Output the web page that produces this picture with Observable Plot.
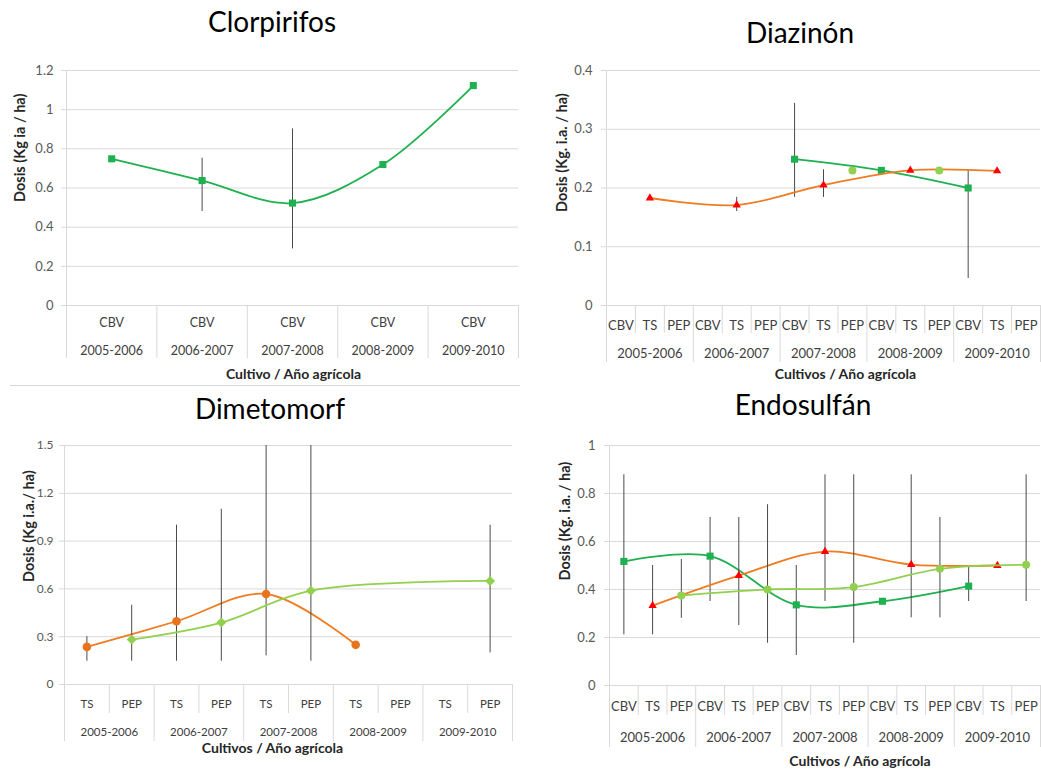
<!DOCTYPE html>
<html><head><meta charset="utf-8">
<script src="https://cdn.jsdelivr.net/npm/d3@7"></script>
<script src="https://cdn.jsdelivr.net/npm/@observablehq/plot@0.6"></script>
<style>
body{margin:0;background:#fff;font-family:Lato,sans-serif;}
#root{position:relative;width:1041px;height:769px;overflow:hidden;background:#fff;}
.panel{position:absolute;}
.title{position:absolute;font-family:Lato,sans-serif;font-size:28px;line-height:28px;color:#000;text-align:center;width:300px;white-space:nowrap;}
.divider{position:absolute;left:10px;top:385px;width:510px;height:1px;background:#d9d9d9;}
</style></head><body><div id="root"></div>
<script>
const years = ["2005-2006","2006-2007","2007-2008","2008-2009","2009-2010"];

// Clorpirifos
const clorCrops = ["CBV"];
const clorCBV = [0.749, 0.638, 0.523, 0.72, 1.123];
const clorCBVLow = [null, 0.48, 0.289, null, null];
const clorCBVHigh = [null, 0.752, 0.902, null, null];
const clorTicks = [0, 0.2, 0.4, 0.6, 0.8, 1, 1.2];

// Diazinón
const diazCrops = ["CBV","TS","PEP"];
const diazCBV = [null, null, 0.249, 0.23, 0.20];
const diazCBVLow = [null, null, 0.184, null, 0.046];
const diazCBVHigh = [null, null, 0.344, null, 0.23];
const diazTS = [0.183, 0.171, 0.205, 0.23, 0.229];
const diazTSLow = [null, 0.16, 0.184, null, null];
const diazTSHigh = [null, 0.184, 0.231, null, null];
const diazPEP = [null, null, 0.23, 0.23, null];
const diazTicks = [0, 0.1, 0.2, 0.3, 0.4];

// Dimetomorf
const dimeCrops = ["TS","PEP"];
const dimeTS = [0.236, 0.397, 0.568, 0.249, null];
const dimeTSLow = [0.146, 0.146, 0.18, null, null];
const dimeTSHigh = [0.30, 1.0, 1.5, null, null];
const dimePEP = [0.282, 0.389, 0.589, null, 0.65];
const dimePEPLow = [0.146, 0.146, 0.146, null, 0.198];
const dimePEPHigh = [0.497, 1.10, 1.5, null, 1.0];
const dimeTicks = [0, 0.3, 0.6, 0.9, 1.2, 1.5];

// Endosulfán
const endoCrops = ["CBV","TS","PEP"];
const endoCBV = [0.517, 0.539, 0.336, 0.351, 0.414];
const endoCBVLow = [0.211, 0.35, 0.125, null, 0.35];
const endoCBVHigh = [0.878, 0.70, 0.50, null, 0.50];
const endoTS = [0.333, 0.458, 0.558, 0.504, 0.50];
const endoTSLow = [0.211, 0.25, 0.35, 0.282, null];
const endoTSHigh = [0.50, 0.70, 0.878, 0.878, null];
const endoPEP = [0.375, 0.40, 0.41, 0.486, 0.503];
const endoPEPLow = [0.28, 0.176, 0.176, 0.282, 0.35];
const endoPEPHigh = [0.525, 0.753, 0.878, 0.70, 0.878];
const endoTicks = [0, 0.2, 0.4, 0.6, 0.8, 1];

const GREEN = "#1fb04f", ORANGE = "#f07c22", RED = "#ff0000", LIGHT = "#92d050", DOT_ORANGE = "#e8731c";

function rows(crops, crop, vals, lo, hi) {
  const k = crops.length, c = crops.indexOf(crop);
  return vals.map((v, i) => ({x: i * k + c + 0.5, y: v, lo: lo ? lo[i] : null, hi: hi ? hi[i] : null}))
             .filter(d => d.y != null);
}

function seriesMarks(data, s) {
  const m = [];
  const eb = data.filter(d => d.lo != null && d.hi != null);
  m.push(Plot.ruleX(eb, {x: "x", y1: "lo", y2: "hi", stroke: "#4a4a4a", strokeWidth: 1}));
  if (s.line) m.push(Plot.line(data, {x: "x", y: "y", stroke: s.line, strokeWidth: 1.8, curve: "catmull-rom"}));
  m.push(Plot.dot(data, {x: "x", y: "y", symbol: s.symbol, fill: s.fill, r: s.r, stroke: "none"}));
  return m;
}

function panel(cfg) {
  const k = cfg.crops.length;
  const n = years.length * k;
  const centers = d3.range(n).map(i => i + 0.5);
  const bounds = d3.range(n + 1);
  const yearBounds = bounds.filter(b => b % k === 0);
  const innerBounds = bounds.filter(b => b % k !== 0);
  const yearCenters = years.map((_, i) => i * k + k / 2);
  const marks = [
    Plot.gridY(cfg.ticks, {stroke: "#d9d9d9", strokeOpacity: 1}),
    Plot.axisY(cfg.ticks, {tickSize: 5, tickFormat: () => "", color: "#d9d9d9", label: null}),
    Plot.axisY(cfg.ticks, {tickSize: 0, tickPadding: cfg.yPad, color: "#595959", fontSize: cfg.tickFont, tickFormat: d3.format("~g"), label: null}),
    Plot.ruleX([0], {stroke: "#d9d9d9"}),
    Plot.axisX(innerBounds, {tickSize: cfg.innerTick, tickFormat: () => "", color: "#d9d9d9", label: null}),
    Plot.axisX(yearBounds, {tickSize: cfg.yearTick, tickFormat: () => "", color: "#d9d9d9", label: null}),
    Plot.axisX(centers, {tickSize: 0, tickPadding: cfg.catPad, fontSize: cfg.catFont, color: "#404040",
      tickFormat: d => cfg.crops[Math.floor(d) % k], label: null}),
    Plot.axisX(yearCenters, {tickSize: 0, tickPadding: cfg.yearPad, fontSize: cfg.catFont, color: "#404040",
      tickFormat: d => years[Math.floor(d / k)], label: null}),
    Plot.text([cfg.xTitle], {text: d => d, frameAnchor: "bottom", dx: cfg.xtDx, dy: cfg.xtDy, lineAnchor: "middle",
      fontWeight: "bold", fontSize: 14, fill: "#262626"}),
    Plot.text([cfg.yTitle], {text: d => d, frameAnchor: "left", rotate: -90, dx: cfg.ytDx, dy: cfg.ytDy, lineAnchor: "middle",
      fontWeight: "bold", fontSize: 14.5, fill: "#262626"}),
    ...cfg.series.flatMap(s => seriesMarks(s.data, s))
  ];
  const svg = Plot.plot({
    width: cfg.width, height: cfg.height,
    marginTop: cfg.mt, marginRight: cfg.mr, marginBottom: cfg.mb, marginLeft: cfg.ml,
    x: {domain: [0, n], type: "linear"},
    y: {domain: [0, cfg.ticks[cfg.ticks.length - 1]]},
    style: {fontFamily: "Lato, sans-serif", fontSize: "13px", background: "transparent", overflow: "visible"},
    marks
  });
  const wrap = document.createElement("div");
  wrap.className = "panel";
  wrap.style.left = cfg.left + "px";
  wrap.style.top = cfg.top + "px";
  wrap.appendChild(svg);
  root.appendChild(wrap);
  const t = document.createElement("div");
  t.className = "title";
  t.textContent = cfg.title;
  t.style.left = (cfg.titleX - 150) + "px";
  t.style.top = cfg.titleY + "px";
  root.appendChild(t);
}

const root = document.getElementById("root");
const dv = document.createElement("div"); dv.className = "divider"; root.appendChild(dv);

panel({
  title: "Clorpirifos", titleX: 272, titleY: 7,
  left: 0, top: 40, width: 520, height: 345, mt: 30, mr: 2, mb: 80, ml: 66,
  crops: clorCrops, ticks: clorTicks, yPad: 13, tickFont: 13,
  innerTick: 53, yearTick: 53, catPad: 13, yearPad: 41, catFont: 12.5,
  xTitle: "Cultivo / Año agrícola", xtDx: 1, xtDy: 69,
  yTitle: "Dosis (Kg ia / ha)", ytDx: -46, ytDy: 14,
  series: [
    {data: rows(clorCrops, "CBV", clorCBV, clorCBVLow, clorCBVHigh), line: GREEN, symbol: "square", fill: GREEN, r: 4}
  ]
});

panel({
  title: "Diazinón", titleX: 800, titleY: 18,
  left: 520, top: 40, width: 521, height: 345, mt: 30, mr: 1, mb: 80, ml: 86,
  crops: diazCrops, ticks: diazTicks, yPad: 14, tickFont: 13,
  innerTick: 28, yearTick: 57, catPad: 15, yearPad: 43, catFont: 13,
  xTitle: "Cultivos / Año agrícola", xtDx: 22, xtDy: 69,
  yTitle: "Dosis (Kg. i.a. / ha)", ytDx: -44, ytDy: 24,
  series: [
    {data: rows(diazCrops, "CBV", diazCBV, diazCBVLow, diazCBVHigh), line: GREEN, symbol: "square", fill: GREEN, r: 4},
    {data: rows(diazCrops, "TS", diazTS, diazTSLow, diazTSHigh), line: ORANGE, symbol: "triangle", fill: RED, r: 3.1},
    {data: rows(diazCrops, "PEP", diazPEP), line: null, symbol: "circle", fill: LIGHT, r: 4}
  ]
});

panel({
  title: "Dimetomorf", titleX: 270, titleY: 394,
  left: 0, top: 420, width: 520, height: 349, mt: 25, mr: 8, mb: 85, ml: 64,
  crops: dimeCrops, ticks: dimeTicks, yPad: 11, tickFont: 12,
  innerTick: 29, yearTick: 57, catPad: 15, yearPad: 43, catFont: 11.5,
  xTitle: "Cultivos / Año agrícola", xtDx: -16, xtDy: 64,
  yTitle: "Dosis (Kg i.a./ ha)", ytDx: -35, ytDy: 17,
  series: [
    {data: rows(dimeCrops, "TS", dimeTS, dimeTSLow, dimeTSHigh), line: ORANGE, symbol: "circle", fill: DOT_ORANGE, r: 4.3},
    {data: rows(dimeCrops, "PEP", dimePEP, dimePEPLow, dimePEPHigh), line: LIGHT, symbol: "diamond2", fill: LIGHT, r: 4.5}
  ]
});

panel({
  title: "Endosulfán", titleX: 803, titleY: 390,
  left: 520, top: 420, width: 521, height: 349, mt: 25, mr: 1, mb: 84, ml: 89,
  crops: endoCrops, ticks: endoTicks, yPad: 14, tickFont: 13,
  innerTick: 30, yearTick: 62, catPad: 16, yearPad: 47, catFont: 13,
  xTitle: "Cultivos / Año agrícola", xtDx: 35, xtDy: 76,
  yTitle: "Dosis (Kg. i.a. / ha)", ytDx: -44, ytDy: 15,
  series: [
    {data: rows(endoCrops, "CBV", endoCBV, endoCBVLow, endoCBVHigh), line: GREEN, symbol: "square", fill: GREEN, r: 4},
    {data: rows(endoCrops, "TS", endoTS, endoTSLow, endoTSHigh), line: ORANGE, symbol: "triangle", fill: RED, r: 3.1},
    {data: rows(endoCrops, "PEP", endoPEP, endoPEPLow, endoPEPHigh), line: LIGHT, symbol: "circle", fill: LIGHT, r: 4}
  ]
});
</script></body></html>
